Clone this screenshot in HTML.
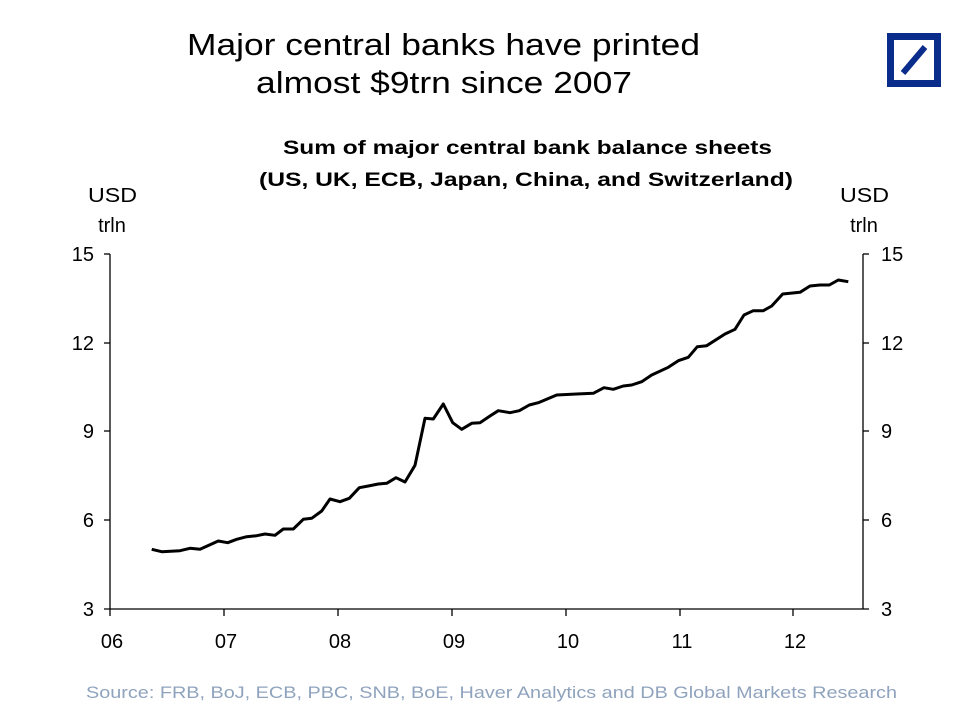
<!DOCTYPE html>
<html><head><meta charset="utf-8"><style>
html,body{margin:0;padding:0;background:#fff;}
svg text{font-family:"Liberation Sans",Arial,sans-serif;}
</style></head><body>
<svg width="978" height="708" viewBox="0 0 978 708" xmlns="http://www.w3.org/2000/svg">
<rect width="978" height="708" fill="#fff"/>
<text x="187" y="55" font-size="31" textLength="513" lengthAdjust="spacingAndGlyphs" fill="#000">Major central banks have printed</text>
<text x="256" y="93" font-size="31" textLength="376" lengthAdjust="spacingAndGlyphs" fill="#000">almost $9trn since 2007</text>
<rect x="887" y="33" width="54" height="54" fill="#0a2d8c"/>
<rect x="894" y="40" width="40" height="40" fill="#fff"/>
<line x1="903" y1="73" x2="925" y2="47" stroke="#0a2d8c" stroke-width="6"/>
<text x="283" y="154" font-size="19" font-weight="bold" textLength="489" lengthAdjust="spacingAndGlyphs">Sum of major central bank balance sheets</text>
<text x="259" y="186" font-size="19" font-weight="bold" textLength="534" lengthAdjust="spacingAndGlyphs">(US, UK, ECB, Japan, China, and Switzerland)</text>
<text x="88" y="202" font-size="20" textLength="49" lengthAdjust="spacingAndGlyphs">USD</text>
<text x="112" y="232" font-size="20" text-anchor="middle">trln</text>
<text x="840" y="202" font-size="20" textLength="49" lengthAdjust="spacingAndGlyphs">USD</text>
<text x="864" y="232" font-size="20" text-anchor="middle">trln</text>
<g stroke="#000" stroke-width="1.3" fill="none">
<line x1="110" y1="254" x2="110" y2="609"/>
<line x1="863" y1="254" x2="863" y2="609"/>
<line x1="104" y1="609" x2="869" y2="609"/>
<line x1="104" y1="254" x2="110" y2="254"/><line x1="104" y1="343" x2="110" y2="343"/><line x1="104" y1="431" x2="110" y2="431"/><line x1="104" y1="520" x2="110" y2="520"/>
<line x1="863" y1="254" x2="869" y2="254"/><line x1="863" y1="343" x2="869" y2="343"/><line x1="863" y1="431" x2="869" y2="431"/><line x1="863" y1="520" x2="869" y2="520"/>
<line x1="110" y1="609" x2="110" y2="616"/><line x1="224" y1="609" x2="224" y2="616"/><line x1="338" y1="609" x2="338" y2="616"/><line x1="452" y1="609" x2="452" y2="616"/><line x1="566" y1="609" x2="566" y2="616"/><line x1="680" y1="609" x2="680" y2="616"/><line x1="793" y1="609" x2="793" y2="616"/>
</g>
<g font-size="20" text-anchor="end">
<text x="94" y="261">15</text><text x="94" y="350">12</text><text x="94" y="438">9</text><text x="94" y="527">6</text><text x="94" y="616">3</text>
</g>
<g font-size="20" text-anchor="start">
<text x="881" y="261">15</text><text x="881" y="350">12</text><text x="881" y="438">9</text><text x="881" y="527">6</text><text x="881" y="616">3</text>
</g>
<g font-size="20" text-anchor="middle">
<text x="112" y="648">06</text><text x="226" y="648">07</text><text x="340" y="648">08</text><text x="454" y="648">09</text><text x="568" y="648">10</text><text x="682" y="648">11</text><text x="795" y="648">12</text>
</g>
<polyline fill="none" stroke="#000" stroke-width="3" stroke-linejoin="round" points="151.7,549.3 161.7,551.7 180,550.7 190,548.3 200,549.3 218.3,541 227.7,542.7 236.7,539.3 246.7,536.7 256.7,535.7 265,534 275,535.3 283.3,529 293.3,529 303.3,519.3 311.7,518.3 321.7,511 330,499 340,501.7 349.3,498.3 359.3,487.7 368.3,486 378.3,484 386.7,483.3 396,477.7 405,482 415,465.3 425,418.3 433.3,419 443.3,404 452.7,422.7 461.7,429.3 471.7,423.3 480,422.7 490,416 498.3,410.7 510,412.7 519.3,410.7 529.3,405 538.3,402.7 556.7,395 576.7,394 593.3,393.3 604,387.7 613.3,389.3 623.3,386 631.7,385 641.7,381.7 651.7,375 668.3,367.3 678.3,360.7 688.3,357.3 697.3,346.7 706.7,345.7 725,334 735,329.3 744,315 753.3,310.7 763.3,310.7 771.7,306 782.7,294 800,292.3 810,286 820,285 829.3,285 838.3,280 848.3,281.7"/>
<text x="86" y="698" font-size="17" fill="#8fa3bd" textLength="811" lengthAdjust="spacingAndGlyphs">Source: FRB, BoJ, ECB, PBC, SNB, BoE, Haver  Analytics and DB Global Markets Research</text>
</svg>
</body></html>
